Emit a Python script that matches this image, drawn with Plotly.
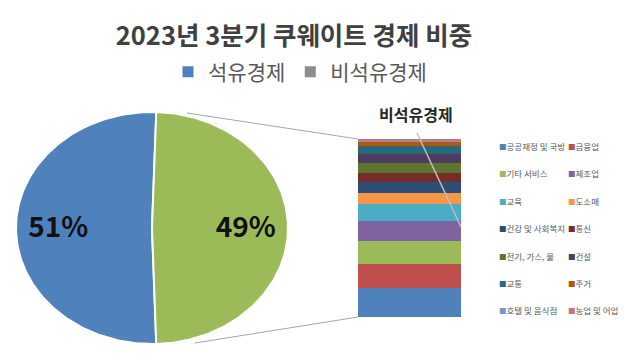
import math
import plotly.graph_objects as go

# ---- data -------------------------------------------------------------
title_text = "2023년 3분기 쿠웨이트 경제 비중"

economy_labels = ["석유경제", "비석유경제"]
economy_shares = [51, 49]
economy_colors = ["#4F81BD", "#9BBB59"]
economy_legend_colors = ["#4F81BD", "#8C8C8C"]

sector_labels = [
    "공공재정 및 국방", "금융업",
    "기타 서비스", "제조업",
    "교육", "도소매",
    "건강 및 사회복지", "통신",
    "전기, 가스, 물", "건설",
    "교통", "주거",
    "호텔 및 음식점", "농업 및 어업",
]
sector_shares = [8.0, 6.7, 6.2, 5.6, 4.5, 3.0, 3.1, 2.6, 2.6, 2.5, 2.3, 1.1, 0.4, 0.4]
sector_colors = [
    "#4F81BD", "#C0504D",
    "#9BBB59", "#8064A2",
    "#4BACC6", "#F79646",
    "#2C4D75", "#772C2A",
    "#5F7530", "#4D3B62",
    "#276A7C", "#B65708",
    "#729ACA", "#CD7371",
]

FONT = "Noto Sans CJK KR"
W, H = 629, 361


def px_x(v):
    return v / W


def px_y(v):
    return 1 - v / H


def wedge(start_deg, span_deg, n=160):
    """Closed polygon of a pie slice on a unit circle, clockwise from 12 o'clock."""
    xs, ys = [0.0], [0.0]
    for i in range(n + 1):
        a = math.radians(start_deg + span_deg * i / n)
        xs.append(math.sin(a))
        ys.append(math.cos(a))
    xs.append(0.0)
    ys.append(0.0)
    return xs, ys


fig = go.Figure()

# ---- pie (drawn on a stretched unit-circle axis pair) -----------------
total = sum(economy_shares)
spans = [s / total * 360 for s in economy_shares]
# non-oil slice faces the breakdown bar (centred at 3 o'clock)
start_non_oil = 90 - spans[1] / 2
starts = [start_non_oil + spans[1], start_non_oil]

label_x, label_y, label_text = [], [], []
for lab, share, col, st, sp in zip(economy_labels, economy_shares, economy_colors, starts, spans):
    xs, ys = wedge(st, sp)
    fig.add_trace(go.Scatter(
        x=xs, y=ys, mode="lines", fill="toself", fillcolor=col,
        line=dict(color="white", width=2), name=lab, showlegend=False,
        hoverinfo="text", text=f"{lab}: {share}%",
        xaxis="x", yaxis="y",
    ))
    mid = math.radians(st + sp / 2)
    label_x.append(0.69 * math.sin(mid))
    label_y.append(0.69 * math.cos(mid) - 0.02)
    label_text.append(f"{share}%")

fig.add_trace(go.Scatter(
    x=label_x, y=label_y, mode="text", text=label_text,
    textfont=dict(family=FONT, size=28, color="#111111", weight=700),
    showlegend=False, hoverinfo="skip", xaxis="x", yaxis="y",
))

# legend entries for the two economy groups
for lab, col in zip(economy_labels, economy_legend_colors):
    fig.add_trace(go.Scatter(
        x=[None], y=[None], mode="markers", name=lab,
        marker=dict(symbol="square", size=11, color=col),
        xaxis="x", yaxis="y",
    ))

# ---- stacked breakdown bar -------------------------------------------
for lab, share, col in zip(sector_labels, sector_shares, sector_colors):
    fig.add_trace(go.Bar(
        x=[0], y=[share], width=1, name=lab, marker=dict(color=col, line=dict(width=0)),
        showlegend=False, xaxis="x2", yaxis="y2",
        hovertemplate=f"{lab}: %{{y}}%<extra></extra>",
    ))

# ---- sector legend (two columns) -------------------------------------
annotations = []
for i, (lab, col) in enumerate(zip(sector_labels, sector_colors)):
    col_i, row_i = i % 2, i // 2
    x0 = 497 if col_i == 0 else 566
    y0 = 146 + 27.4 * row_i
    annotations.append(dict(
        x=px_x(x0), y=px_y(y0), xref="paper", yref="paper",
        xanchor="left", yanchor="middle", showarrow=False,
        text=f'<span style="color:{col};font-size:7.5px">■</span>{lab}',
        font=dict(family=FONT, size=8.5, color="#595959"),
    ))

# label above the bar
annotations.append(dict(
    x=px_x(416), y=px_y(114), xref="paper", yref="paper",
    xanchor="center", yanchor="middle", showarrow=False,
    text=economy_labels[1],
    font=dict(family=FONT, size=16, color="#262626", weight=700),
))

line_style = dict(color="#A6A6A6", width=1)
shapes = [
    # series lines from the pie slice to the bar
    dict(type="line", xref="paper", yref="paper",
         x0=px_x(187), y0=px_y(113), x1=px_x(358), y1=px_y(139), line=line_style),
    dict(type="line", xref="paper", yref="paper",
         x0=px_x(195), y0=px_y(343), x1=px_x(358), y1=px_y(317), line=line_style),
    # leader line of the bar label
    dict(type="line", xref="paper", yref="paper",
         x0=px_x(417), y0=px_y(133), x1=px_x(461), y1=px_y(227),
         line=dict(color="#BFBFBF", width=1.5)),
]

fig.update_layout(
    width=W, height=H,
    margin=dict(l=0, r=0, t=0, b=0),
    paper_bgcolor="white", plot_bgcolor="rgba(0,0,0,0)",
    barmode="stack", bargap=0,
    font=dict(family=FONT, color="#595959"),
    title=dict(
        text=title_text, x=px_x(294), y=px_y(36), xanchor="center", yanchor="middle",
        font=dict(family=FONT, size=25.5, color="#404040", weight=700),
    ),
    legend=dict(
        orientation="h", traceorder="normal",
        x=px_x(300), y=px_y(72), xanchor="center", yanchor="middle",
        font=dict(family=FONT, size=21, color="#595959"),
        bgcolor="rgba(0,0,0,0)", itemclick=False, itemdoubleclick=False,
    ),
    xaxis=dict(domain=[px_x(16), px_x(288)], range=[-1, 1], visible=False, fixedrange=True),
    yaxis=dict(domain=[px_y(344), px_y(112)], range=[-1, 1], visible=False, fixedrange=True),
    xaxis2=dict(domain=[px_x(358), px_x(461)], range=[-0.5, 0.5], visible=False,
                anchor="y2", fixedrange=True),
    yaxis2=dict(domain=[px_y(317), px_y(139)], range=[0, sum(sector_shares)], visible=False,
                anchor="x2", fixedrange=True),
    annotations=annotations,
    shapes=shapes,
)

fig.write_html("out.html")
